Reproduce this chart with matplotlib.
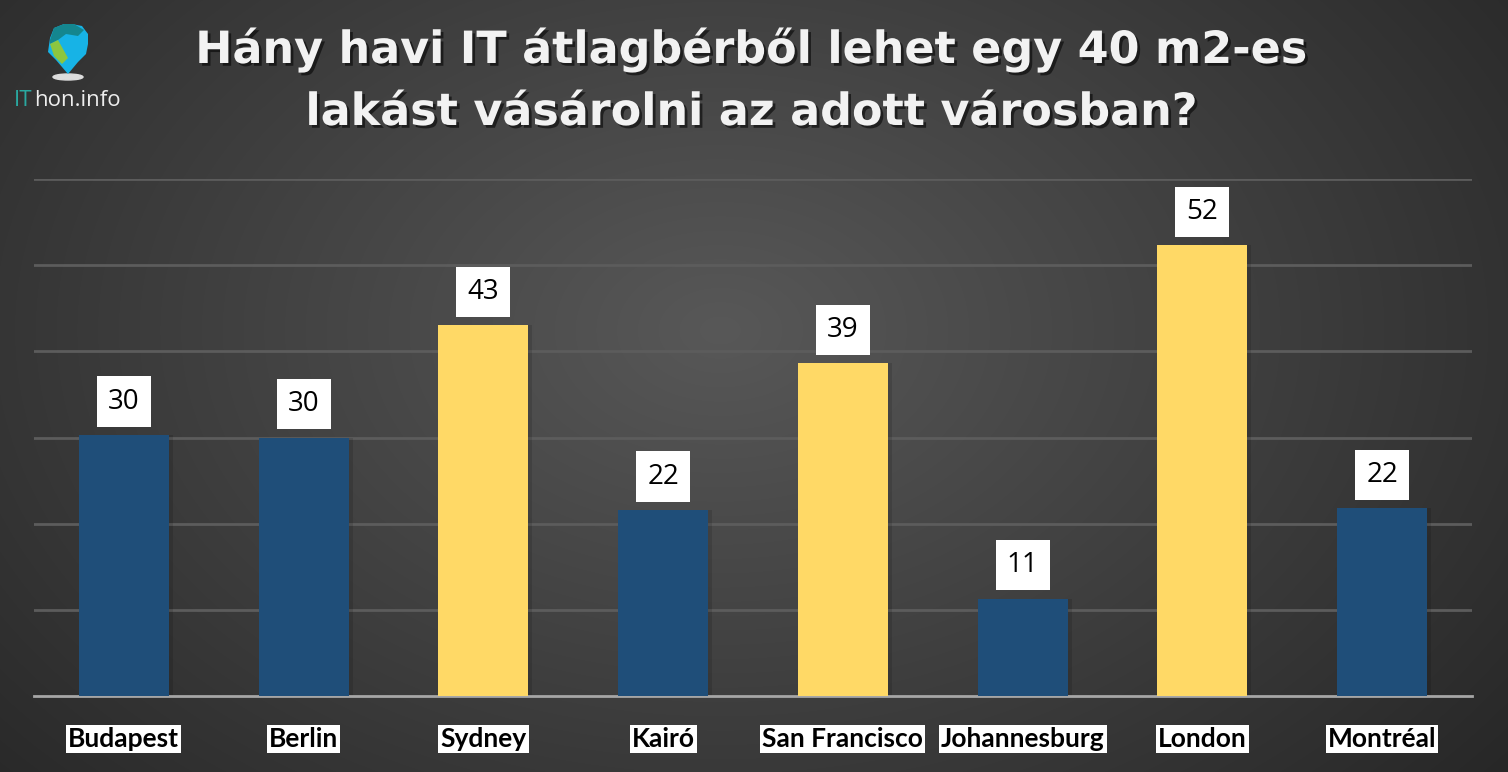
import numpy as np
import matplotlib
matplotlib.use("Agg")
import matplotlib.pyplot as plt
import matplotlib.patheffects as pe
from matplotlib.patches import Ellipse, PathPatch
from matplotlib.path import Path

cities = ["Budapest", "Berlin", "Sydney", "Kairó", "San Francisco", "Johannesburg", "London", "Montréal"]
values = [30.3, 30.0, 43.0, 21.6, 38.6, 11.3, 52.3, 21.8]
value_labels = ["30", "30", "43", "22", "39", "11", "52", "22"]
highlight = [False, False, True, False, True, False, True, False]
title_lines = ["Hány havi IT átlagbérből lehet egy 40 m2-es", "lakást vásárolni az adott városban?"]

BLUE = "#1F4E79"
YELLOW = "#FFD966"

W, H = 1508, 772
fig = plt.figure(figsize=(W / 100, H / 100), dpi=100)

# radial gradient background
bg = fig.add_axes([0, 0, 1, 1])
yy, xx = np.mgrid[0:H, 0:W]
cx, cy = 720, 330
d = np.sqrt(((xx - cx) / 900.0) ** 2 + ((yy - cy) / 620.0) ** 2)
v = 0.345 - 0.17 * np.clip(d, 0, 1.2)
img = np.dstack([v, v, v])
bg.imshow(img, extent=[0, W, H, 0], aspect="auto")
bg.set_xlim(0, W)
bg.set_ylim(H, 0)
bg.axis("off")

ax = fig.add_axes([34 / W, 76 / H, 1438 / W, 517 / H])
ax.patch.set_alpha(0)
x = np.arange(len(cities))
colors = [YELLOW if h else BLUE for h in highlight]
# subtle shadow
ax.bar(x + 0.012, values, width=0.52, color="black", alpha=0.12, zorder=2)
ax.bar(x, values, width=0.5, color=colors, zorder=3)
ax.set_xlim(-0.5, len(cities) - 0.5)
ax.set_ylim(0, 60)
ax.set_yticks(np.arange(10, 61, 10))
ax.yaxis.grid(True, color="#5c5c5c", linewidth=2)
ax.set_axisbelow(True)
for s in ["top", "right", "left"]:
    ax.spines[s].set_visible(False)
ax.spines["bottom"].set_color("#a6a6a6")
ax.spines["bottom"].set_linewidth(2)
ax.tick_params(axis="y", left=False, labelleft=False)
ax.tick_params(axis="x", bottom=False)
ax.set_xticks(x)
ax.set_xticklabels(cities, fontsize=19, fontweight="bold", family="Lato", color="black")
for lbl in ax.get_xticklabels():
    lbl.set_bbox(dict(facecolor="white", edgecolor="none", pad=1.5))
ax.tick_params(axis="x", pad=19)

for xi, val, lab in zip(x, values, value_labels):
    ax.annotate(lab, (xi, val), xytext=(0, 24), textcoords="offset points",
                ha="center", va="center", fontsize=20, family="Open Sans", color="black",
                bbox=dict(boxstyle="square,pad=0.4", facecolor="white", edgecolor="none"),
                zorder=5)

shadow = [pe.SimplePatchShadow(offset=(2, -2), shadow_rgbFace="black", alpha=0.55), pe.Normal()]
for line, yb in zip(title_lines, [63, 125]):
    fig.text(752 / W, 1 - yb / H, line, ha="center", va="baseline", fontsize=32,
             fontweight="bold", family="DejaVu Sans", color="#f2f2f2", path_effects=shadow)

# logo
lg = fig.add_axes([0, 0, 1, 1])
lg.set_xlim(0, W)
lg.set_ylim(H, 0)
lg.axis("off")
lg.add_patch(Ellipse((68, 77), 30, 6, color="#dddddd"))
verts = [(68, 74), (56, 60), (48, 52), (50, 38), (54, 28), (64, 24), (72, 24),
         (82, 26), (88, 34), (88, 44), (86, 54), (78, 62), (68, 74)]
codes = [Path.MOVETO] + [Path.LINETO] * (len(verts) - 2) + [Path.CLOSEPOLY]
lg.add_patch(PathPatch(Path(verts, codes), facecolor="#17b3e6", edgecolor="none"))
v2 = [(50, 40), (54, 28), (64, 24), (74, 24), (84, 30), (78, 36), (66, 34), (58, 40), (50, 44)]
lg.add_patch(PathPatch(Path(v2 + [v2[0]], [Path.MOVETO] + [Path.LINETO] * (len(v2) - 1) + [Path.CLOSEPOLY]),
                       facecolor="#14868f", edgecolor="none"))
v3 = [(50, 44), (58, 40), (68, 58), (62, 64), (54, 56)]
lg.add_patch(PathPatch(Path(v3 + [v3[0]], [Path.MOVETO] + [Path.LINETO] * (len(v3) - 1) + [Path.CLOSEPOLY]),
                       facecolor="#8cc63f", edgecolor="none"))
lg.text(14, 101, "IT", fontsize=16, family="Open Sans", color="#2aa8a0", va="center", ha="left")
lg.text(34, 101, "hon.info", fontsize=16, family="Open Sans", color="#eeeeee", va="center", ha="left")

fig.savefig("out.png", dpi=100)
